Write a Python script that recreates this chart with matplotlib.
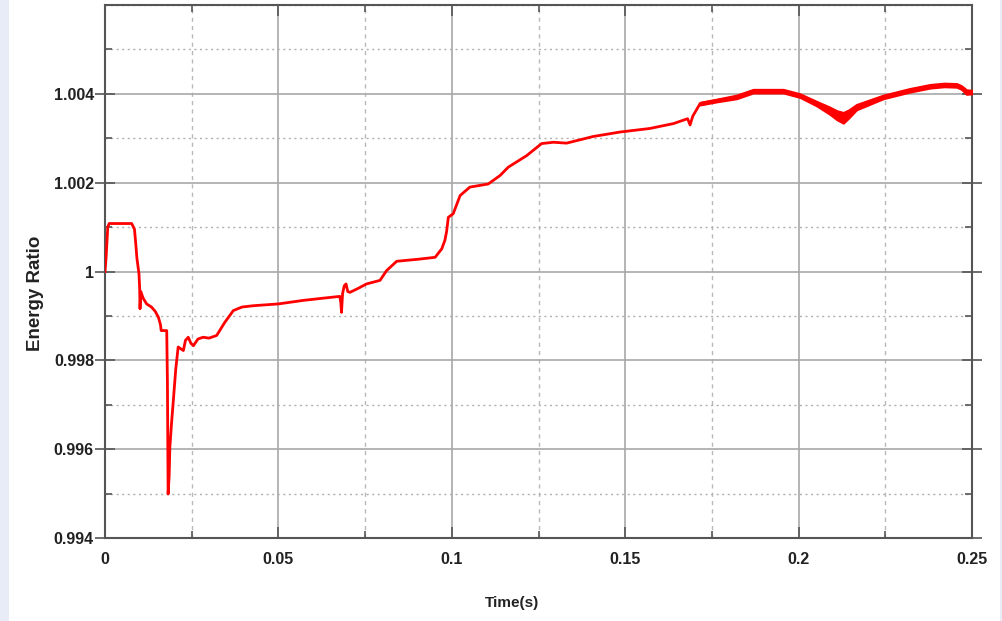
import matplotlib
matplotlib.use("Agg")
import matplotlib.pyplot as plt
from matplotlib.patches import Rectangle
from matplotlib.ticker import MultipleLocator, FixedLocator, FixedFormatter

# ---- data ----
time_s = [0.0000, 0.0003, 0.0008, 0.0012, 0.0077, 0.0085, 0.0089, 0.0092, 0.0098, 0.0100,
          0.0101, 0.0103, 0.0110, 0.0120, 0.0134, 0.0145, 0.0154, 0.0160, 0.0162, 0.0178,
          0.0180, 0.0182, 0.0185, 0.0187, 0.0192, 0.0197, 0.0204, 0.0211, 0.0226, 0.0232,
          0.0240, 0.0248, 0.0255, 0.0268, 0.0283, 0.0300, 0.0322, 0.0345, 0.0370, 0.0395,
          0.0428, 0.0500, 0.0572, 0.0630, 0.0677, 0.0680, 0.0682, 0.0685, 0.0690, 0.0695,
          0.0700, 0.0706, 0.0730, 0.0754, 0.0793, 0.0812, 0.0841, 0.0908, 0.0952, 0.0971,
          0.0980, 0.0985, 0.0990, 0.1004, 0.1024, 0.1052, 0.1105, 0.1139, 0.1163, 0.1216,
          0.1259, 0.1293, 0.1331, 0.1408, 0.1485, 0.1571, 0.1639, 0.1680, 0.1687, 0.1695,
          0.1716, 0.1764, 0.1821, 0.1869, 0.1956, 0.2004, 0.2052, 0.2090, 0.2110, 0.2129,
          0.2145, 0.2167, 0.2244, 0.2321, 0.2379, 0.2420, 0.2456, 0.2470, 0.2484, 0.2500]
energy_ratio = [1.00000, 1.00030, 1.00100, 1.00108, 1.00108, 1.00095, 1.00060, 1.00030, 0.99995, 0.99960,
                0.99916, 0.99955, 0.99940, 0.99927, 0.99920, 0.99910, 0.99897, 0.99880, 0.99867, 0.99867,
                0.99750, 0.99499, 0.99540, 0.99604, 0.99660, 0.99709, 0.99780, 0.99830, 0.99822, 0.99845,
                0.99852, 0.99838, 0.99833, 0.99848, 0.99852, 0.99850, 0.99856, 0.99885, 0.99912, 0.99920,
                0.99923, 0.99927, 0.99935, 0.99940, 0.99944, 0.99930, 0.99908, 0.99950, 0.99968, 0.99972,
                0.99955, 0.99953, 0.99962, 0.99972, 0.99980, 1.00002, 1.00023, 1.00028, 1.00032, 1.00051,
                1.00070, 1.00090, 1.00122, 1.00130, 1.00171, 1.00190, 1.00197, 1.00216, 1.00235, 1.00261,
                1.00288, 1.00291, 1.00289, 1.00304, 1.00314, 1.00322, 1.00333, 1.00344, 1.00330, 1.00350,
                1.00378, 1.00385, 1.00393, 1.00406, 1.00406, 1.00396, 1.00378, 1.00362, 1.00352, 1.00346,
                1.00355, 1.00370, 1.00393, 1.00408, 1.00417, 1.00420, 1.00419, 1.00414, 1.00404, 1.00404]

# noisy band (oscillation envelope) in the late part of the run
band_t = [0.1716, 0.1764, 0.1821, 0.1869, 0.1956, 0.2004, 0.2052, 0.2090, 0.2110, 0.2129,
          0.2145, 0.2167, 0.2244, 0.2321, 0.2379, 0.2420, 0.2456, 0.2470, 0.2484, 0.2500]
band_lo = [1.00375, 1.00382, 1.00389, 1.00402, 1.00402, 1.00392, 1.00373, 1.00354, 1.00342, 1.00334,
           1.00346, 1.00364, 1.00389, 1.00404, 1.00413, 1.00416, 1.00415, 1.00410, 1.00399, 1.00400]
band_hi = [1.00381, 1.00388, 1.00397, 1.00410, 1.00410, 1.00400, 1.00383, 1.00370, 1.00362, 1.00358,
           1.00364, 1.00376, 1.00397, 1.00412, 1.00421, 1.00424, 1.00423, 1.00418, 1.00409, 1.00408]

x_ticks = [0, 0.05, 0.1, 0.15, 0.2, 0.25]
x_labels = ["0", "0.05", "0.1", "0.15", "0.2", "0.25"]
y_ticks = [0.994, 0.996, 0.998, 1.0, 1.002, 1.004]
y_labels = ["0.994", "0.996", "0.998", "1", "1.002", "1.004"]

W, H = 1002, 621
fig = plt.figure(figsize=(W / 100, H / 100), dpi=100)
fig.patch.set_facecolor("white")
fig.patches.append(Rectangle((0, 0), 9 / W, 1, transform=fig.transFigure,
                             facecolor="#e7ecf7", edgecolor="none", zorder=0))
fig.patches.append(Rectangle((1000 / W, 0), 2 / W, 1, transform=fig.transFigure,
                             facecolor="#e7ecf7", edgecolor="none", zorder=0))

ax = fig.add_axes([105 / W, 1 - 538 / H, (972 - 105) / W, (538 - 5) / H])
ax.set_xlim(0, 0.25)
ax.set_ylim(0.994, 1.006)

ax.plot(time_s, energy_ratio, color="#ff0000", lw=2.0, zorder=3)
ax.fill_between(band_t, band_lo, band_hi, color="#ff0000", lw=1.5, edgecolor="#ff0000", zorder=3)

ax.xaxis.set_major_locator(FixedLocator(x_ticks))
ax.xaxis.set_major_formatter(FixedFormatter(x_labels))
ax.xaxis.set_minor_locator(MultipleLocator(0.025))
ax.yaxis.set_major_locator(FixedLocator(y_ticks))
ax.yaxis.set_major_formatter(FixedFormatter(y_labels))
ax.yaxis.set_minor_locator(MultipleLocator(0.001))

ax.grid(which="major", color="#a8a8a8", lw=1.2, ls="-", zorder=1)
ax.grid(which="minor", axis="y", color="#b0b0b0", lw=1.0, ls=(0, (1.5, 2.5)), zorder=1)
ax.grid(which="minor", axis="x", color="#b8b8b8", lw=1.0, ls=(0, (3, 3)), zorder=1)
ax.set_axisbelow(True)

for s in ax.spines.values():
    s.set_color("#555555")
    s.set_linewidth(1.5)

FAM = ["Liberation Sans", "DejaVu Sans"]
ax.tick_params(axis="both", which="major", direction="in", length=8, width=1.2,
               color="#555555", top=True, right=True, labelsize=11.5, labelcolor="#222222")
ax.tick_params(axis="y", which="major", direction="inout", length=14, pad=1)
ax.tick_params(axis="x", which="major", pad=10)
ax.tick_params(axis="both", which="minor", direction="in", length=5, width=1.2,
               color="#555555", top=True, right=True)
for lab in ax.get_xticklabels() + ax.get_yticklabels():
    lab.set_fontfamily(FAM)
    lab.set_fontweight("bold")

fig.text(512 / W, 1 - 603 / H, "Time(s)", ha="center", va="center",
         family=FAM, weight="bold", size=11, color="#222222")
fig.text(35 / W, 1 - 293 / H, "Energy Ratio", ha="center", va="center", rotation=90,
         family=FAM, weight="bold", size=13.5, color="#222222")

fig.savefig("out.png", dpi=100)
